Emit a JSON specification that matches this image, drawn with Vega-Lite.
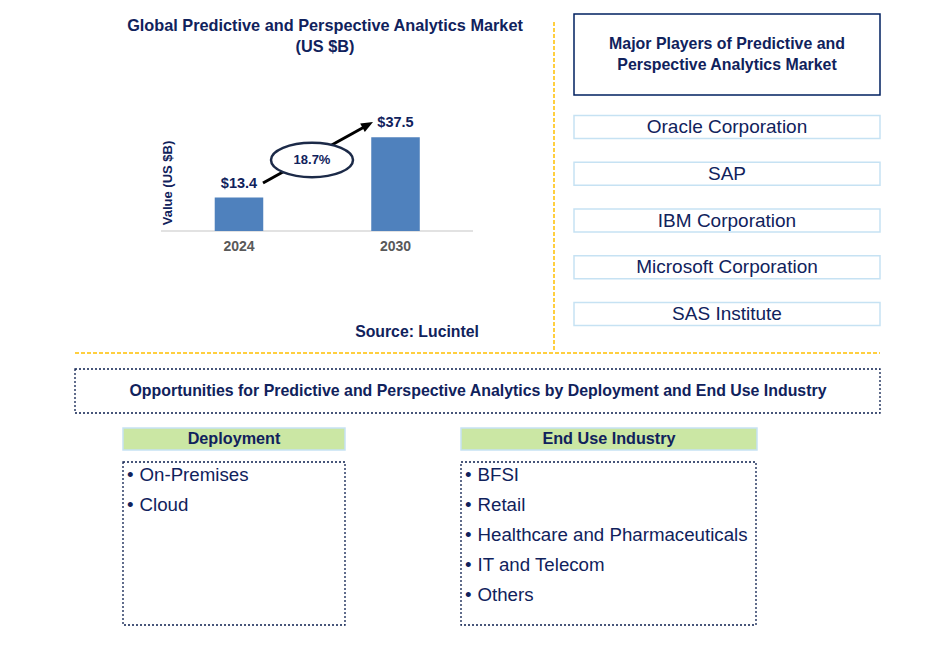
{
  "$schema": "https://vega.github.io/schema/vega-lite/v6.json",
  "width": 945,
  "height": 646,
  "padding": 0,
  "autosize": {"type": "none"},
  "background": "white",
  "config": {"view": {"stroke": null}, "font": "Liberation Sans", "text": {"font": "Liberation Sans"}},
  "datasets": {
    "blank": [{}],
    "market": [{"year": "2024", "value": 13.4}, {"year": "2030", "value": 37.5}],
    "growth": [{"from": "2024", "to": "2030", "start": 13.4, "end": 37.5, "cagr": "18.7%"}],
    "players": [
      {"rank": 1, "player": "Oracle Corporation"},
      {"rank": 2, "player": "SAP"},
      {"rank": 3, "player": "IBM Corporation"},
      {"rank": 4, "player": "Microsoft Corporation"},
      {"rank": 5, "player": "SAS Institute"}
    ],
    "categories": [{"category": "Deployment"}, {"category": "End Use Industry"}],
    "segments": [
      {"category": "Deployment", "order": 1, "item": "On-Premises"},
      {"category": "Deployment", "order": 2, "item": "Cloud"},
      {"category": "End Use Industry", "order": 1, "item": "BFSI"},
      {"category": "End Use Industry", "order": 2, "item": "Retail"},
      {"category": "End Use Industry", "order": 3, "item": "Healthcare and Pharmaceuticals"},
      {"category": "End Use Industry", "order": 4, "item": "IT and Telecom"},
      {"category": "End Use Industry", "order": 5, "item": "Others"}
    ]
  },
  "data": {"name": "blank"},
  "resolve": {"scale": {"x": "independent", "y": "independent"}},
  "layer": [
    {"mark": {"type": "rule", "color": "#ffc000", "strokeWidth": 1.5, "strokeDash": [4, 2]},
     "encoding": {"x": {"value": 554}, "y": {"value": 22}, "y2": {"value": 352}}},
    {"mark": {"type": "rule", "color": "#ffc000", "strokeWidth": 1.5, "strokeDash": [4, 2]},
     "encoding": {"x": {"value": 75}, "x2": {"value": 880}, "y": {"value": 353}}},
    {"mark": {"type": "rule", "color": "#d9d9d9", "strokeWidth": 1.5},
     "encoding": {"x": {"value": 161}, "x2": {"value": 473}, "y": {"value": 231}}},
    {"data": {"name": "market"},
     "mark": {"type": "bar", "color": "#4f81bd"},
     "encoding": {
       "x": {"field": "year", "type": "ordinal", "axis": null, "scale": {"type": "band", "domain": ["2024", "2030"], "range": [161.5, 473], "paddingInner": 0.69, "paddingOuter": 0.34}},
       "y": {"field": "value", "type": "quantitative", "axis": null, "scale": {"domain": [0, 40], "range": [231, 131], "nice": false, "zero": true}}
     }},
    {"data": {"name": "market"},
     "mark": {"type": "text", "fontWeight": "bold", "fontSize": 14.5, "color": "#10225c", "baseline": "middle", "dy": -14},
     "encoding": {
       "x": {"field": "year", "type": "ordinal", "axis": null, "scale": {"type": "point", "domain": ["2024", "2030"], "range": [239, 395.5], "padding": 0}},
       "y": {"field": "value", "type": "quantitative", "axis": null, "scale": {"domain": [0, 40], "range": [231, 131], "nice": false, "zero": true}},
       "text": {"field": "value", "type": "quantitative", "format": "$.1f"}
     }},
    {"data": {"name": "market"},
     "mark": {"type": "text", "fontWeight": "bold", "fontSize": 14, "color": "#595959", "baseline": "middle", "dy": 16},
     "encoding": {
       "x": {"field": "year", "type": "ordinal", "axis": null, "scale": {"type": "point", "domain": ["2024", "2030"], "range": [239, 395.5], "padding": 0}},
       "y": {"datum": 0, "type": "quantitative", "axis": null, "scale": {"domain": [0, 40], "range": [231, 131], "nice": false, "zero": true}},
       "text": {"field": "year"}
     }},
    {"data": {"name": "growth"},
     "mark": {"type": "rule", "color": "black", "strokeWidth": 3, "xOffset": 24, "yOffset": -14.5, "x2Offset": -29.5, "y2Offset": -11.3},
     "encoding": {
       "x": {"field": "from", "type": "ordinal", "axis": null, "scale": {"type": "point", "domain": ["2024", "2030"], "range": [239, 395.5], "padding": 0}},
       "x2": {"field": "to"},
       "y": {"field": "start", "type": "quantitative", "axis": null, "scale": {"domain": [0, 40], "range": [231, 131], "nice": false, "zero": true}},
       "y2": {"field": "end"}
     }},
    {"data": {"name": "growth"},
     "mark": {"type": "point", "filled": true, "color": "black", "opacity": 1, "shape": "M0,-1L0.8,1L-0.8,1Z", "size": 144, "angle": 61, "xOffset": -27.75, "yOffset": -12.35},
     "encoding": {
       "x": {"field": "to", "type": "ordinal", "axis": null, "scale": {"type": "point", "domain": ["2024", "2030"], "range": [239, 395.5], "padding": 0}},
       "y": {"field": "end", "type": "quantitative", "axis": null, "scale": {"domain": [0, 40], "range": [231, 131], "nice": false, "zero": true}}
     }},
    {"data": {"name": "growth"},
     "mark": {"type": "point", "filled": false, "fill": "white", "fillOpacity": 1, "stroke": "#1c2a48", "strokeWidth": 2.5, "opacity": 1,
              "shape": "M-1,0C-1,-0.232,-0.552,-0.42,0,-0.42C0.552,-0.42,1,-0.232,1,0C1,0.232,0.552,0.42,0,0.42C-0.552,0.42,-1,0.232,-1,0Z",
              "size": 6724, "xOffset": 73, "yOffset": -37.5},
     "encoding": {
       "x": {"field": "from", "type": "ordinal", "axis": null, "scale": {"type": "point", "domain": ["2024", "2030"], "range": [239, 395.5], "padding": 0}},
       "y": {"field": "start", "type": "quantitative", "axis": null, "scale": {"domain": [0, 40], "range": [231, 131], "nice": false, "zero": true}}
     }},
    {"data": {"name": "growth"},
     "mark": {"type": "text", "fontWeight": "bold", "fontSize": 13, "color": "#10225c", "baseline": "middle", "xOffset": 73, "yOffset": -37.5},
     "encoding": {
       "x": {"field": "from", "type": "ordinal", "axis": null, "scale": {"type": "point", "domain": ["2024", "2030"], "range": [239, 395.5], "padding": 0}},
       "y": {"field": "start", "type": "quantitative", "axis": null, "scale": {"domain": [0, 40], "range": [231, 131], "nice": false, "zero": true}},
       "text": {"field": "cagr"}
     }},
    {"mark": {"type": "text", "text": "Value (US $B)", "angle": 270, "fontWeight": "bold", "fontSize": 13, "color": "#10225c", "baseline": "middle", "align": "center"},
     "encoding": {"x": {"value": 168}, "y": {"value": 183}}},
    {"mark": {"type": "text", "text": ["Global Predictive and Perspective Analytics Market", "(US $B)"], "lineHeight": 21, "fontWeight": "bold", "fontSize": 16.3, "color": "#10225c", "baseline": "middle", "align": "center"},
     "encoding": {"x": {"value": 325}, "y": {"value": 26}}},
    {"mark": {"type": "text", "text": "Source: Lucintel", "fontWeight": "bold", "fontSize": 15.8, "color": "#10225c", "baseline": "middle", "align": "center"},
     "encoding": {"x": {"value": 417}, "y": {"value": 332}}},
    {"mark": {"type": "rect", "fill": "white", "stroke": "#002060", "strokeWidth": 1.5},
     "encoding": {"x": {"value": 574}, "x2": {"value": 880}, "y": {"value": 14}, "y2": {"value": 95}}},
    {"mark": {"type": "text", "text": ["Major Players of Predictive and", "Perspective Analytics Market"], "lineHeight": 21, "fontWeight": "bold", "fontSize": 15.9, "color": "#10225c", "baseline": "middle", "align": "center"},
     "encoding": {"x": {"value": 727}, "y": {"value": 44}}},
    {"data": {"name": "players"},
     "mark": {"type": "rect", "fill": "white", "stroke": "#c6e2f3", "strokeWidth": 1.5},
     "encoding": {
       "x": {"value": 574}, "x2": {"value": 880},
       "y": {"field": "rank", "type": "ordinal", "axis": null, "scale": {"type": "band", "domain": [1, 2, 3, 4, 5], "range": [115.5, 325.5], "paddingInner": 0.508, "paddingOuter": 0}}
     }},
    {"data": {"name": "players"},
     "mark": {"type": "text", "fontSize": 19, "color": "#10225c", "baseline": "middle", "align": "center"},
     "encoding": {
       "x": {"value": 727},
       "y": {"field": "rank", "type": "ordinal", "axis": null, "bandPosition": 0.5, "scale": {"type": "band", "domain": [1, 2, 3, 4, 5], "range": [115.5, 325.5], "paddingInner": 0.508, "paddingOuter": 0}},
       "text": {"field": "player"}
     }},
    {"mark": {"type": "rect", "fill": null, "fillOpacity": 0, "stroke": "#0d1f4f", "strokeWidth": 1.3, "strokeDash": [2, 2]},
     "encoding": {"x": {"value": 75}, "x2": {"value": 880}, "y": {"value": 369}, "y2": {"value": 413}}},
    {"mark": {"type": "text", "text": "Opportunities for Predictive and Perspective Analytics by Deployment and End Use Industry", "fontWeight": "bold", "fontSize": 15.9, "color": "#10225c", "baseline": "middle", "align": "center"},
     "encoding": {"x": {"value": 478}, "y": {"value": 391}}},
    {"mark": {"type": "rect", "fill": "#cbe7a4", "stroke": "#c6e2f3", "strokeWidth": 1.5},
     "encoding": {"x": {"value": 123}, "x2": {"value": 345}, "y": {"value": 428}, "y2": {"value": 450}}},
    {"mark": {"type": "rect", "fill": "#cbe7a4", "stroke": "#c6e2f3", "strokeWidth": 1.5},
     "encoding": {"x": {"value": 461}, "x2": {"value": 757}, "y": {"value": 428}, "y2": {"value": 450}}},
    {"data": {"name": "categories"},
     "mark": {"type": "text", "fontWeight": "bold", "fontSize": 16.2, "color": "#10225c", "baseline": "middle", "align": "center"},
     "encoding": {
       "x": {"field": "category", "type": "nominal", "axis": null, "scale": {"type": "point", "domain": ["Deployment", "End Use Industry"], "range": [234, 609], "padding": 0}},
       "y": {"value": 439},
       "text": {"field": "category"}
     }},
    {"mark": {"type": "rect", "fill": null, "fillOpacity": 0, "stroke": "#0d1f4f", "strokeWidth": 1.3, "strokeDash": [2, 2]},
     "encoding": {"x": {"value": 123}, "x2": {"value": 345}, "y": {"value": 462}, "y2": {"value": 625}}},
    {"mark": {"type": "rect", "fill": null, "fillOpacity": 0, "stroke": "#0d1f4f", "strokeWidth": 1.3, "strokeDash": [2, 2]},
     "encoding": {"x": {"value": 461}, "x2": {"value": 756}, "y": {"value": 462}, "y2": {"value": 625}}},
    {"data": {"name": "segments"},
     "mark": {"type": "text", "text": "•", "fontSize": 18.7, "color": "#10225c", "baseline": "middle", "align": "left"},
     "encoding": {
       "x": {"field": "category", "type": "nominal", "axis": null, "scale": {"type": "point", "domain": ["Deployment", "End Use Industry"], "range": [127, 465], "padding": 0}},
       "y": {"field": "order", "type": "ordinal", "axis": null, "scale": {"type": "point", "domain": [1, 2, 3, 4, 5], "range": [475, 595], "padding": 0}}
     }},
    {"data": {"name": "segments"},
     "mark": {"type": "text", "fontSize": 18.7, "color": "#10225c", "baseline": "middle", "align": "left"},
     "encoding": {
       "x": {"field": "category", "type": "nominal", "axis": null, "scale": {"type": "point", "domain": ["Deployment", "End Use Industry"], "range": [139.5, 477.5], "padding": 0}},
       "y": {"field": "order", "type": "ordinal", "axis": null, "scale": {"type": "point", "domain": [1, 2, 3, 4, 5], "range": [475, 595], "padding": 0}},
       "text": {"field": "item"}
     }}
  ]
}
